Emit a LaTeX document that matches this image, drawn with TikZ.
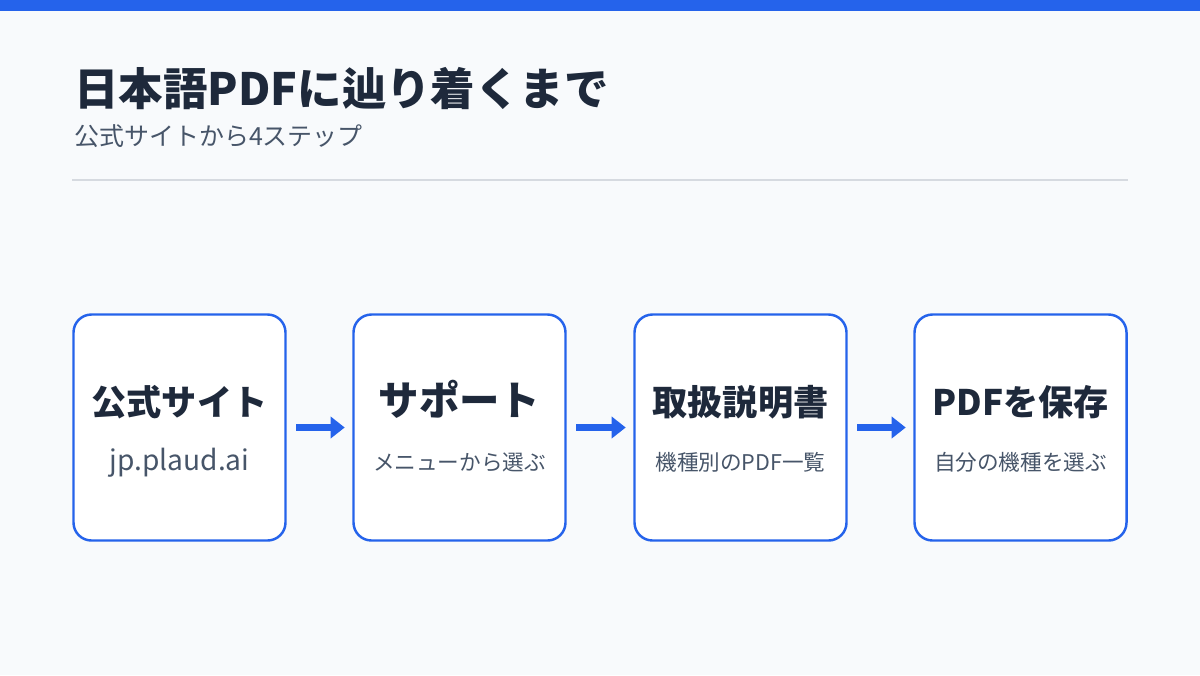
\documentclass[tikz,border=0pt]{standalone}
\usepackage{fontspec}
\setmainfont{Noto Sans CJK JP}
\usepackage{tikz}
\usetikzlibrary{arrows.meta, positioning, calc}
\definecolor{accent}{HTML}{2563EB}
\definecolor{ink}{HTML}{1E293B}
\definecolor{subink}{HTML}{475569}
\definecolor{paper}{HTML}{F8FAFC}
\definecolor{rule}{HTML}{D6DAE0}
\tikzset{
    stepnode/.style = {draw=accent, fill=white, rectangle, rounded corners=0.36cm, line width=1.4pt,
      minimum width=4.24cm, minimum height=4.52cm, inner sep=0em, outer sep=0em},
    headnode/.style = {draw=none, fill=none, inner sep=0em, font=\fontsize{20}{24}\selectfont\bfseries, color=ink},
    subnode/.style  = {draw=none, fill=none, inner sep=0em, font=\fontsize{12.3}{14}\selectfont, color=subink},
    connect/.style = {accent, line width=4pt, -{Triangle[length=8pt,width=12pt]}, shorten <=6.2pt, shorten >=5pt}
}
\begin{document}
\begin{tikzpicture}
\useasboundingbox (0,0) rectangle (24,-13.5);
\fill[paper] (0,0) rectangle (24,-13.5);
\fill[accent] (0,0) rectangle (24,-0.22);

% heading
\node [anchor=base west, inner sep=0em, color=ink, font=\fontsize{25.3}{30}\selectfont\bfseries, name = title]
    at (1.48,-2.1) {日本語PDFに辿り着くまで};
\node [anchor=base west, inner sep=0em, color=subink, font=\fontsize{14.2}{17}\selectfont, name = subtitle]
    at (1.48,-2.9) {公式サイトから4ステップ};
\draw[rule, line width=0.6pt] (1.44,-3.6) -- (22.56,-3.6);

% steps
\node [stepnode, name = site] at (3.59,-8.55) {};
\node [stepnode, name = support] at (9.19,-8.55) {};
\node [stepnode, name = manual] at (14.81,-8.55) {};
\node [stepnode, name = save] at (20.41,-8.55) {};

\node [headnode, anchor=base] at ($(site.center)+(0,0.25)$) {公式サイト};
\node [subnode, anchor=base, font=\fontsize{16}{18}\selectfont] at ($(site.center)+(0,-0.85)$) {jp.plaud.ai};
\node [headnode, anchor=base, font=\fontsize{23}{27}\selectfont\bfseries] at ($(support.center)+(0,0.25)$) {サポート};
\node [subnode, anchor=base] at ($(support.center)+(0,-0.85)$) {メニューから選ぶ};
\node [headnode, anchor=base] at ($(manual.center)+(0,0.25)$) {取扱説明書};
\node [subnode, anchor=base] at ($(manual.center)+(0,-0.85)$) {機種別のPDF一覧};
\node [headnode, anchor=base] at ($(save.center)+(0,0.25)$) {PDFを保存};
\node [subnode, anchor=base] at ($(save.center)+(0,-0.85)$) {自分の機種を選ぶ};

\draw[connect] (site.east) -- (support.west);
\draw[connect] (support.east) -- (manual.west);
\draw[connect] (manual.east) -- (save.west);
\end{tikzpicture}
\end{document}
